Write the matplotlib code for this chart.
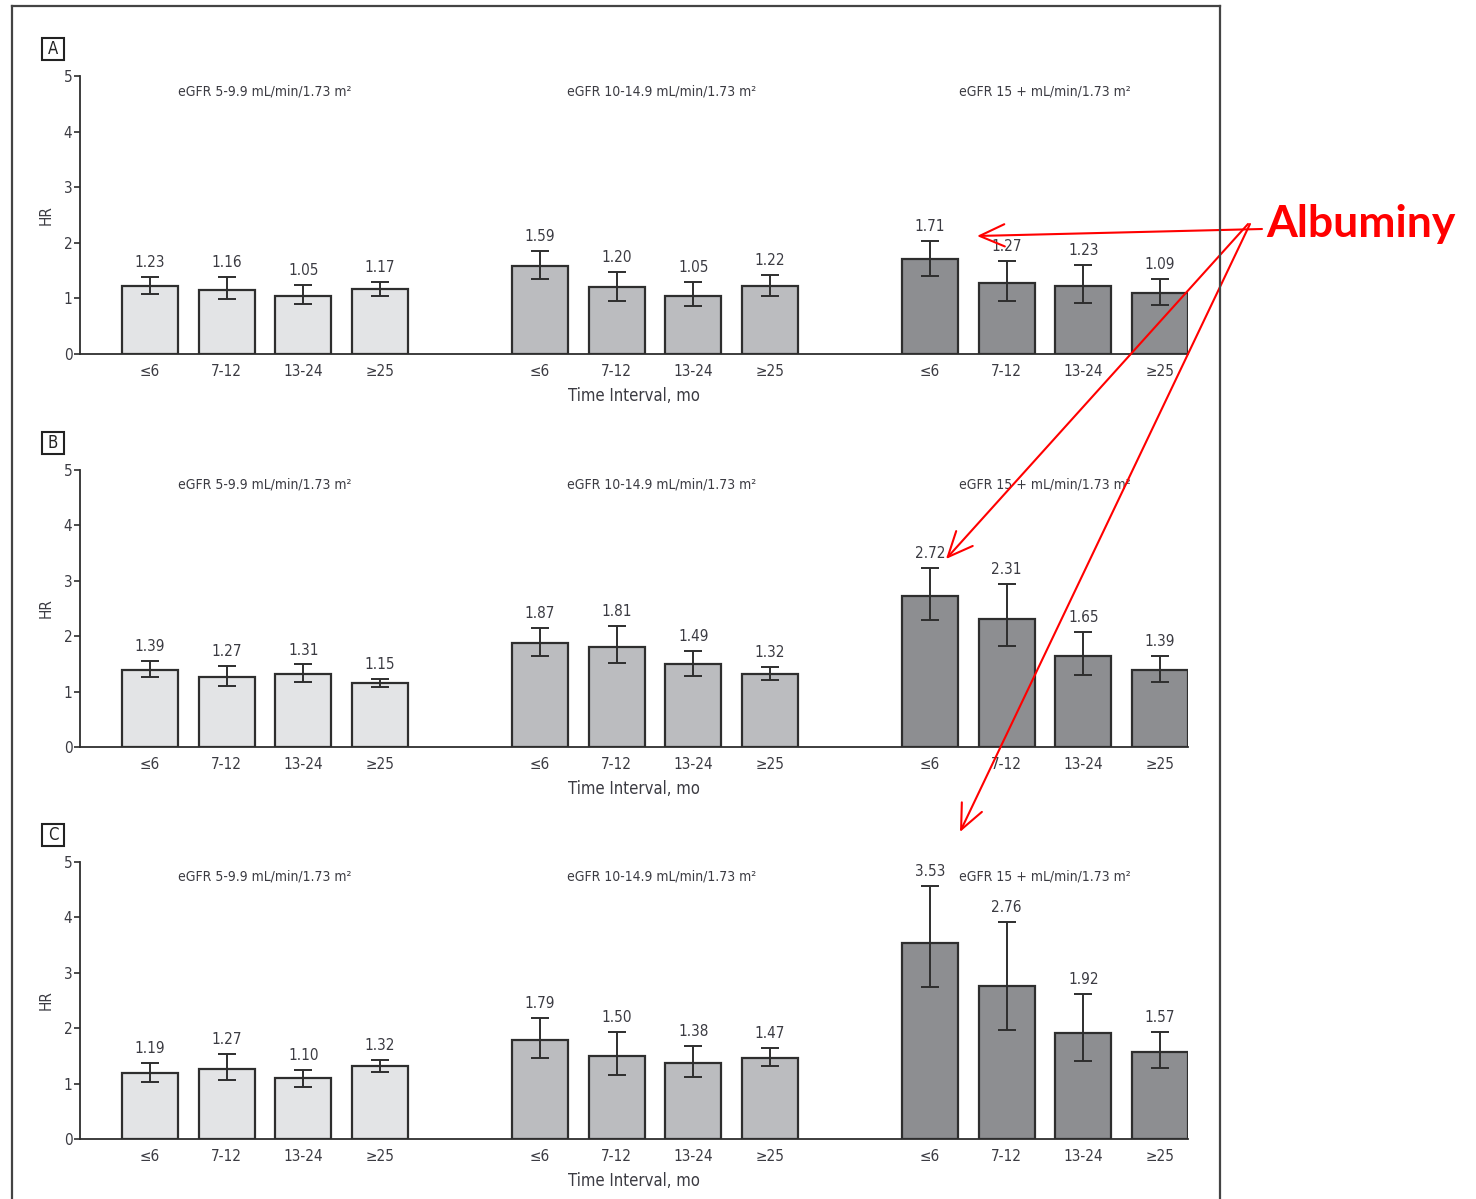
import matplotlib
matplotlib.use("Agg")
import matplotlib.pyplot as plt
from matplotlib.patches import FancyArrowPatch, Rectangle
from matplotlib.lines import Line2D

plt.rcParams['font.family'] = ['Liberation Sans Narrow', 'DejaVu Sans']
plt.rcParams['font.stretch'] = 'condensed'

# ---- data -------------------------------------------------------------
intervals = ['≤6', '7-12', '13-24', '≥25']
egfr_titles = ['eGFR 5-9.9 mL/min/1.73 m²',
               'eGFR 10-14.9 mL/min/1.73 m²',
               'eGFR 15 + mL/min/1.73 m²']
panel_names = ['A', 'B', 'C']

hr_A = [[1.23, 1.16, 1.05, 1.17], [1.59, 1.20, 1.05, 1.22], [1.71, 1.27, 1.23, 1.09]]
lo_A = [[1.08, 0.99, 0.90, 1.04], [1.35, 0.95, 0.86, 1.04], [1.41, 0.95, 0.92, 0.89]]
hi_A = [[1.38, 1.38, 1.24, 1.29], [1.85, 1.48, 1.29, 1.42], [2.04, 1.67, 1.60, 1.35]]

hr_B = [[1.39, 1.27, 1.31, 1.15], [1.87, 1.81, 1.49, 1.32], [2.72, 2.31, 1.65, 1.39]]
lo_B = [[1.27, 1.11, 1.17, 1.08], [1.64, 1.52, 1.29, 1.21], [2.30, 1.83, 1.30, 1.17]]
hi_B = [[1.55, 1.46, 1.49, 1.23], [2.14, 2.18, 1.73, 1.45], [3.24, 2.95, 2.08, 1.64]]

hr_C = [[1.19, 1.27, 1.10, 1.32], [1.79, 1.50, 1.38, 1.47], [3.53, 2.76, 1.92, 1.57]]
lo_C = [[1.03, 1.06, 0.93, 1.21], [1.47, 1.15, 1.12, 1.31], [2.75, 1.96, 1.41, 1.28]]
hi_C = [[1.37, 1.53, 1.25, 1.43], [2.18, 1.93, 1.68, 1.65], [4.57, 3.91, 2.62, 1.93]]

annotation_label = 'Albuminy'

# ---- styling ----------------------------------------------------------
W, H = 1476, 1199
bar_colors = ['#e3e4e6', '#bbbcbf', '#8d8e91']
edge = '#2e2e2e'
txt = '#3b3b42'
group_step = 5.085
bar_w = 0.73
title_shift = [0.0, 0.09, 0.0]   # small horizontal nudge of each group heading

fig = plt.figure(figsize=(W / 100, H / 100), dpi=100)


def fx(x):
    return x / W


def fy(y):
    return 1 - y / H


# outer frame (open at the bottom edge)
for xs, ys in [((12, 12), (6, H + 5)), ((12, 1220), (6, 6)), ((1220, 1220), (6, H + 5))]:
    fig.add_artist(Line2D([fx(v) for v in xs], [fy(v) for v in ys],
                          transform=fig.transFigure, color='#444444', lw=1.6))

panels = [(hr_A, lo_A, hi_A), (hr_B, lo_B, hi_B), (hr_C, lo_C, hi_C)]
axes_px = [(76, 354), (470, 747), (862, 1139)]
ax_left, ax_right = 80, 1188

for (hr, lo, hi), (top, bot), name in zip(panels, axes_px, panel_names):
    ax = fig.add_axes([fx(ax_left), fy(bot), (ax_right - ax_left) / W, (bot - top) / H])
    ax.set_ylim(0, 5)
    ax.set_xlim(-0.913, 2 * group_step + 3 + 0.365)
    ax.spines['top'].set_visible(False)
    ax.spines['right'].set_visible(False)
    ax.spines['left'].set_color(edge)
    ax.spines['bottom'].set_color(edge)
    ax.spines['left'].set_linewidth(1.3)
    ax.spines['bottom'].set_linewidth(1.3)
    ax.set_yticks(range(6))
    ax.tick_params(axis='y', length=4.5, width=1.2, color=edge, pad=1,
                   labelsize=11, labelcolor=txt)
    ax.tick_params(axis='x', length=0, pad=7, labelsize=11, labelcolor=txt)

    xt, xl = [], []
    for g in range(3):
        xs = [g * group_step + i for i in range(4)]
        vals = hr[g]
        ax.bar(xs, vals, width=bar_w, color=bar_colors[g], edgecolor=edge,
               linewidth=1.6, zorder=2)
        yerr = [[v - l for v, l in zip(vals, lo[g])],
                [h - v for v, h in zip(vals, hi[g])]]
        ax.errorbar(xs, vals, yerr=yerr, fmt='none', ecolor=edge,
                    elinewidth=1.4, capsize=6.5, capthick=1.4, zorder=3)
        for x, v, h in zip(xs, vals, hi[g]):
            ax.annotate(f'{v:.2f}', (x, h), xytext=(0, 5), textcoords='offset points',
                        ha='center', va='bottom', fontsize=11, color=txt)
        ax.text(g * group_step + 1.5 + title_shift[g], 0.946, egfr_titles[g],
                transform=ax.get_xaxis_transform(),
                ha='center', va='center', fontsize=10, color=txt)
        xt += xs
        xl += intervals
    ax.set_xticks(xt)
    ax.set_xticklabels(xl)

    ax.set_ylabel('HR', fontsize=11, color=txt)
    ax.yaxis.set_label_coords(-0.0235, 0.5)
    ax.annotate('Time Interval, mo', (group_step + 1.5, 0), xycoords=('data', 'axes fraction'),
                xytext=(-15, -30), textcoords='offset points', ha='center', va='center',
                fontsize=12, color=txt)

    # boxed panel letter
    fig.add_artist(Rectangle((fx(42), fy(top - 16)), 22 / W, 22 / H,
                             transform=fig.transFigure, fill=False,
                             edgecolor='#222222', lw=1.5))
    fig.text(fx(53), fy(top - 27), name, ha='center', va='center',
             fontsize=12, color='#222222')

# red call-out with arrows
red = '#ff0000'
fig.text(fx(1266), fy(224), annotation_label, ha='left', va='center',
         fontsize=32, fontweight='bold', color=red, family=['Lato', 'DejaVu Sans'],
         fontstretch='normal')
for (x0, y0), (x1, y1) in [((1262, 229), (977, 236)),
                           ((1248, 224), (946, 559)),
                           ((1250, 224), (960, 832))]:
    fig.add_artist(FancyArrowPatch((fx(x0), fy(y0)), (fx(x1), fy(y1)),
                                   transform=fig.transFigure,
                                   arrowstyle='->,head_length=18,head_width=8',
                                   color=red, lw=1.5, shrinkA=0, shrinkB=0,
                                   mutation_scale=1))

fig.savefig('out.png', dpi=100)
